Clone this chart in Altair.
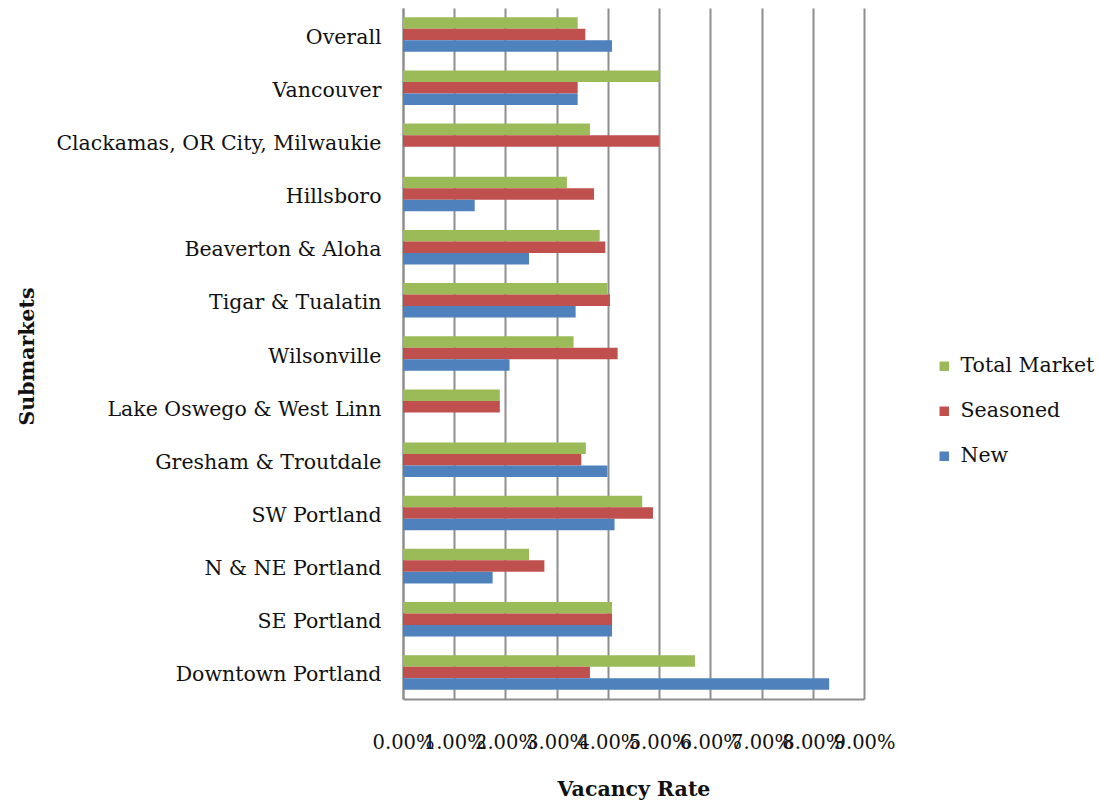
import altair as alt
import pandas as pd

# Apartment vacancy rates by submarket
submarkets = [
    "Overall",
    "Vancouver",
    "Clackamas, OR City, Milwaukie",
    "Hillsboro",
    "Beaverton & Aloha",
    "Tigar & Tualatin",
    "Wilsonville",
    "Lake Oswego & West Linn",
    "Gresham & Troutdale",
    "SW Portland",
    "N & NE Portland",
    "SE Portland",
    "Downtown Portland",
]
total_market = [0.0341, 0.0501, 0.0365, 0.0320, 0.0384, 0.0399, 0.0333, 0.0189,
                0.0357, 0.0467, 0.0246, 0.0408, 0.0570]
seasoned = [0.0356, 0.0341, 0.0500, 0.0373, 0.0395, 0.0404, 0.0419, 0.0189,
            0.0348, 0.0488, 0.0276, 0.0408, 0.0365]
new = [0.0408, 0.0341, None, 0.0140, 0.0246, 0.0337, 0.0208, None,
       0.0399, 0.0413, 0.0175, 0.0408, 0.0832]

series = ["Total Market", "Seasoned", "New"]
colors = ["#9BBB59", "#C0504D", "#4F81BD"]
x_ticks = [0.00, 0.01, 0.02, 0.03, 0.04, 0.05, 0.06, 0.07, 0.08, 0.09]

rows = []
for name, values in zip(series, [total_market, seasoned, new]):
    for sub, v in zip(submarkets, values):
        if v is not None:
            rows.append({"Submarket": sub, "Series": name, "Rate": v})
df = pd.DataFrame(rows)

FONT = "DejaVu Serif"
SIZE = 20.5
INK = "#111"

chart = (
    alt.Chart(df)
    .mark_bar()
    .encode(
        x=alt.X(
            "Rate:Q",
            scale=alt.Scale(domain=[0, 0.09], nice=False),
            axis=alt.Axis(
                values=x_ticks,
                format=".2%",
                title="Vacancy Rate",
                labelFont=FONT,
                labelFontSize=19.5,
                labelColor=INK,
                labelPadding=34,
                labelOverlap=False,
                labelFlush=False,
                ticks=False,
                grid=True,
                gridColor="#8e8e8e",
                gridWidth=2,
                domainColor="#8e8e8e",
                domainWidth=2,
                titleFont=FONT,
                titleFontSize=SIZE,
                titleFontWeight="bold",
                titleColor=INK,
                titlePadding=28,
            ),
        ),
        y=alt.Y(
            "Submarket:N",
            sort=submarkets,
            scale=alt.Scale(paddingInner=0.35, paddingOuter=0.175),
            axis=alt.Axis(
                title="Submarkets",
                labelFont=FONT,
                labelFontSize=SIZE,
                labelColor=INK,
                labelPadding=22,
                labelLimit=400,
                labelOffset=3,
                ticks=False,
                grid=False,
                domainColor="#8e8e8e",
                domainWidth=2,
                titleFont=FONT,
                titleFontSize=SIZE,
                titleFontWeight="bold",
                titleColor=INK,
                titleX=-376,
                titleY=348,
                titleAlign="center",
                titleBaseline="middle",
                titleAngle=270,
            ),
        ),
        yOffset=alt.YOffset("Series:N", sort=series),
        color=alt.Color(
            "Series:N",
            sort=series,
            scale=alt.Scale(domain=series, range=colors),
            legend=alt.Legend(
                title=None,
                orient="none",
                legendX=531,
                legendY=348,
                symbolType="square",
                symbolSize=90,
                symbolStrokeWidth=0,
                labelFont=FONT,
                labelFontSize=SIZE,
                labelColor=INK,
                rowPadding=24,
                labelOffset=6,
            ),
        ),
    )
    .properties(
        width=461,
        height=691,
        autosize=alt.AutoSizeParams(type="none"),
        padding={"left": 403, "top": 8, "right": 235, "bottom": 108},
        background="white",
    )
    .configure_view(stroke=None, strokeWidth=0)
)

chart.save("out.html", embed_options={"renderer": "svg", "actions": False})
